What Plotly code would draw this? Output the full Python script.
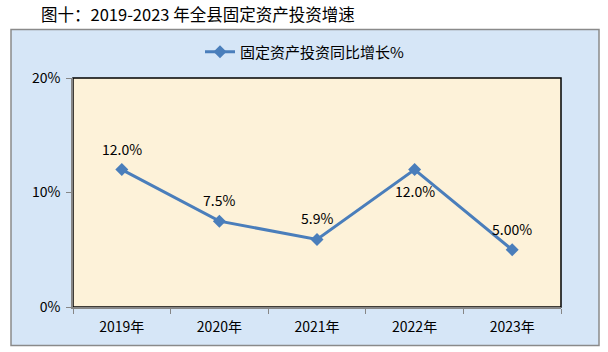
import plotly.graph_objects as go

years = ["2019年", "2020年", "2021年", "2022年", "2023年"]
growth = [12.0, 7.5, 5.9, 12.0, 5.0]
labels = ["12.0%", "7.5%", "5.9%", "12.0%", "5.00%"]
label_side = [1, 1, 1, -1, 1]
yticks = [0, 10, 20]
yticklabels = ["0%", "10%", "20%"]
title = "图十：2019-2023 年全县固定资产投资增速"
series_name = "固定资产投资同比增长%"

W, H = 608, 352
L, R, T, B = 73, 47, 78, 45
pw, ph = W - L - R, H - T - B

def px_x(x):
    return (x - L) / pw

def px_y(y):
    return (H - B - y) / ph

font = "Noto Sans CJK SC, Noto Sans, sans-serif"
blue = "#4A7EBB"

fig = go.Figure()
fig.add_trace(go.Scatter(
    x=years, y=growth, mode="lines+markers", name=series_name,
    line=dict(color=blue, width=3),
    marker=dict(symbol="diamond", size=10, color=blue),
))

for x, v, t, s in zip(years, growth, labels, label_side):
    fig.add_annotation(x=x, y=v, text=t, showarrow=False, yshift=21 * s,
                       font=dict(size=14, color="black", family=font))

fig.add_shape(type="rect", xref="paper", yref="paper",
              x0=px_x(11), x1=px_x(599), y0=px_y(345.5), y1=px_y(29.5),
              fillcolor="#D6E6F7", line=dict(color="#8A8A8A", width=1.5), layer="below")
fig.add_shape(type="rect", xref="paper", yref="paper",
              x0=0, x1=1, y0=0, y1=1,
              fillcolor="#FDF2D9", line=dict(color="black", width=1.5), layer="below")

fig.add_annotation(xref="paper", yref="paper", x=px_x(39), y=px_y(14),
                   xanchor="left", yanchor="middle", showarrow=False,
                   text=title, font=dict(size=16.5, color="black", family=font))

fig.update_layout(
    width=W, height=H,
    margin=dict(l=L, r=R, t=T, b=B),
    paper_bgcolor="white", plot_bgcolor="rgba(0,0,0,0)",
    font=dict(family=font, color="black", size=13),
    showlegend=True,
    legend=dict(orientation="h", x=px_x(305), y=px_y(52), xanchor="center", yanchor="middle",
                bgcolor="rgba(0,0,0,0)", font=dict(size=15, family=font)),
    xaxis=dict(type="category", range=[-0.5, len(years) - 0.5], tickson="boundaries",
               ticks="outside", ticklen=5,
               tickcolor="#868686", showline=True, linecolor="#868686", linewidth=1.5,
               showgrid=False, tickfont=dict(size=14), ticklabelstandoff=6),
    yaxis=dict(range=[0, 20], tickvals=yticks, ticktext=yticklabels, ticks="outside",
               ticklen=5, tickcolor="#868686", showline=True, linecolor="#868686",
               linewidth=1.5, showgrid=False, zeroline=False, tickfont=dict(size=14),
               ticklabelstandoff=3),
)

fig.write_html("out.html")
